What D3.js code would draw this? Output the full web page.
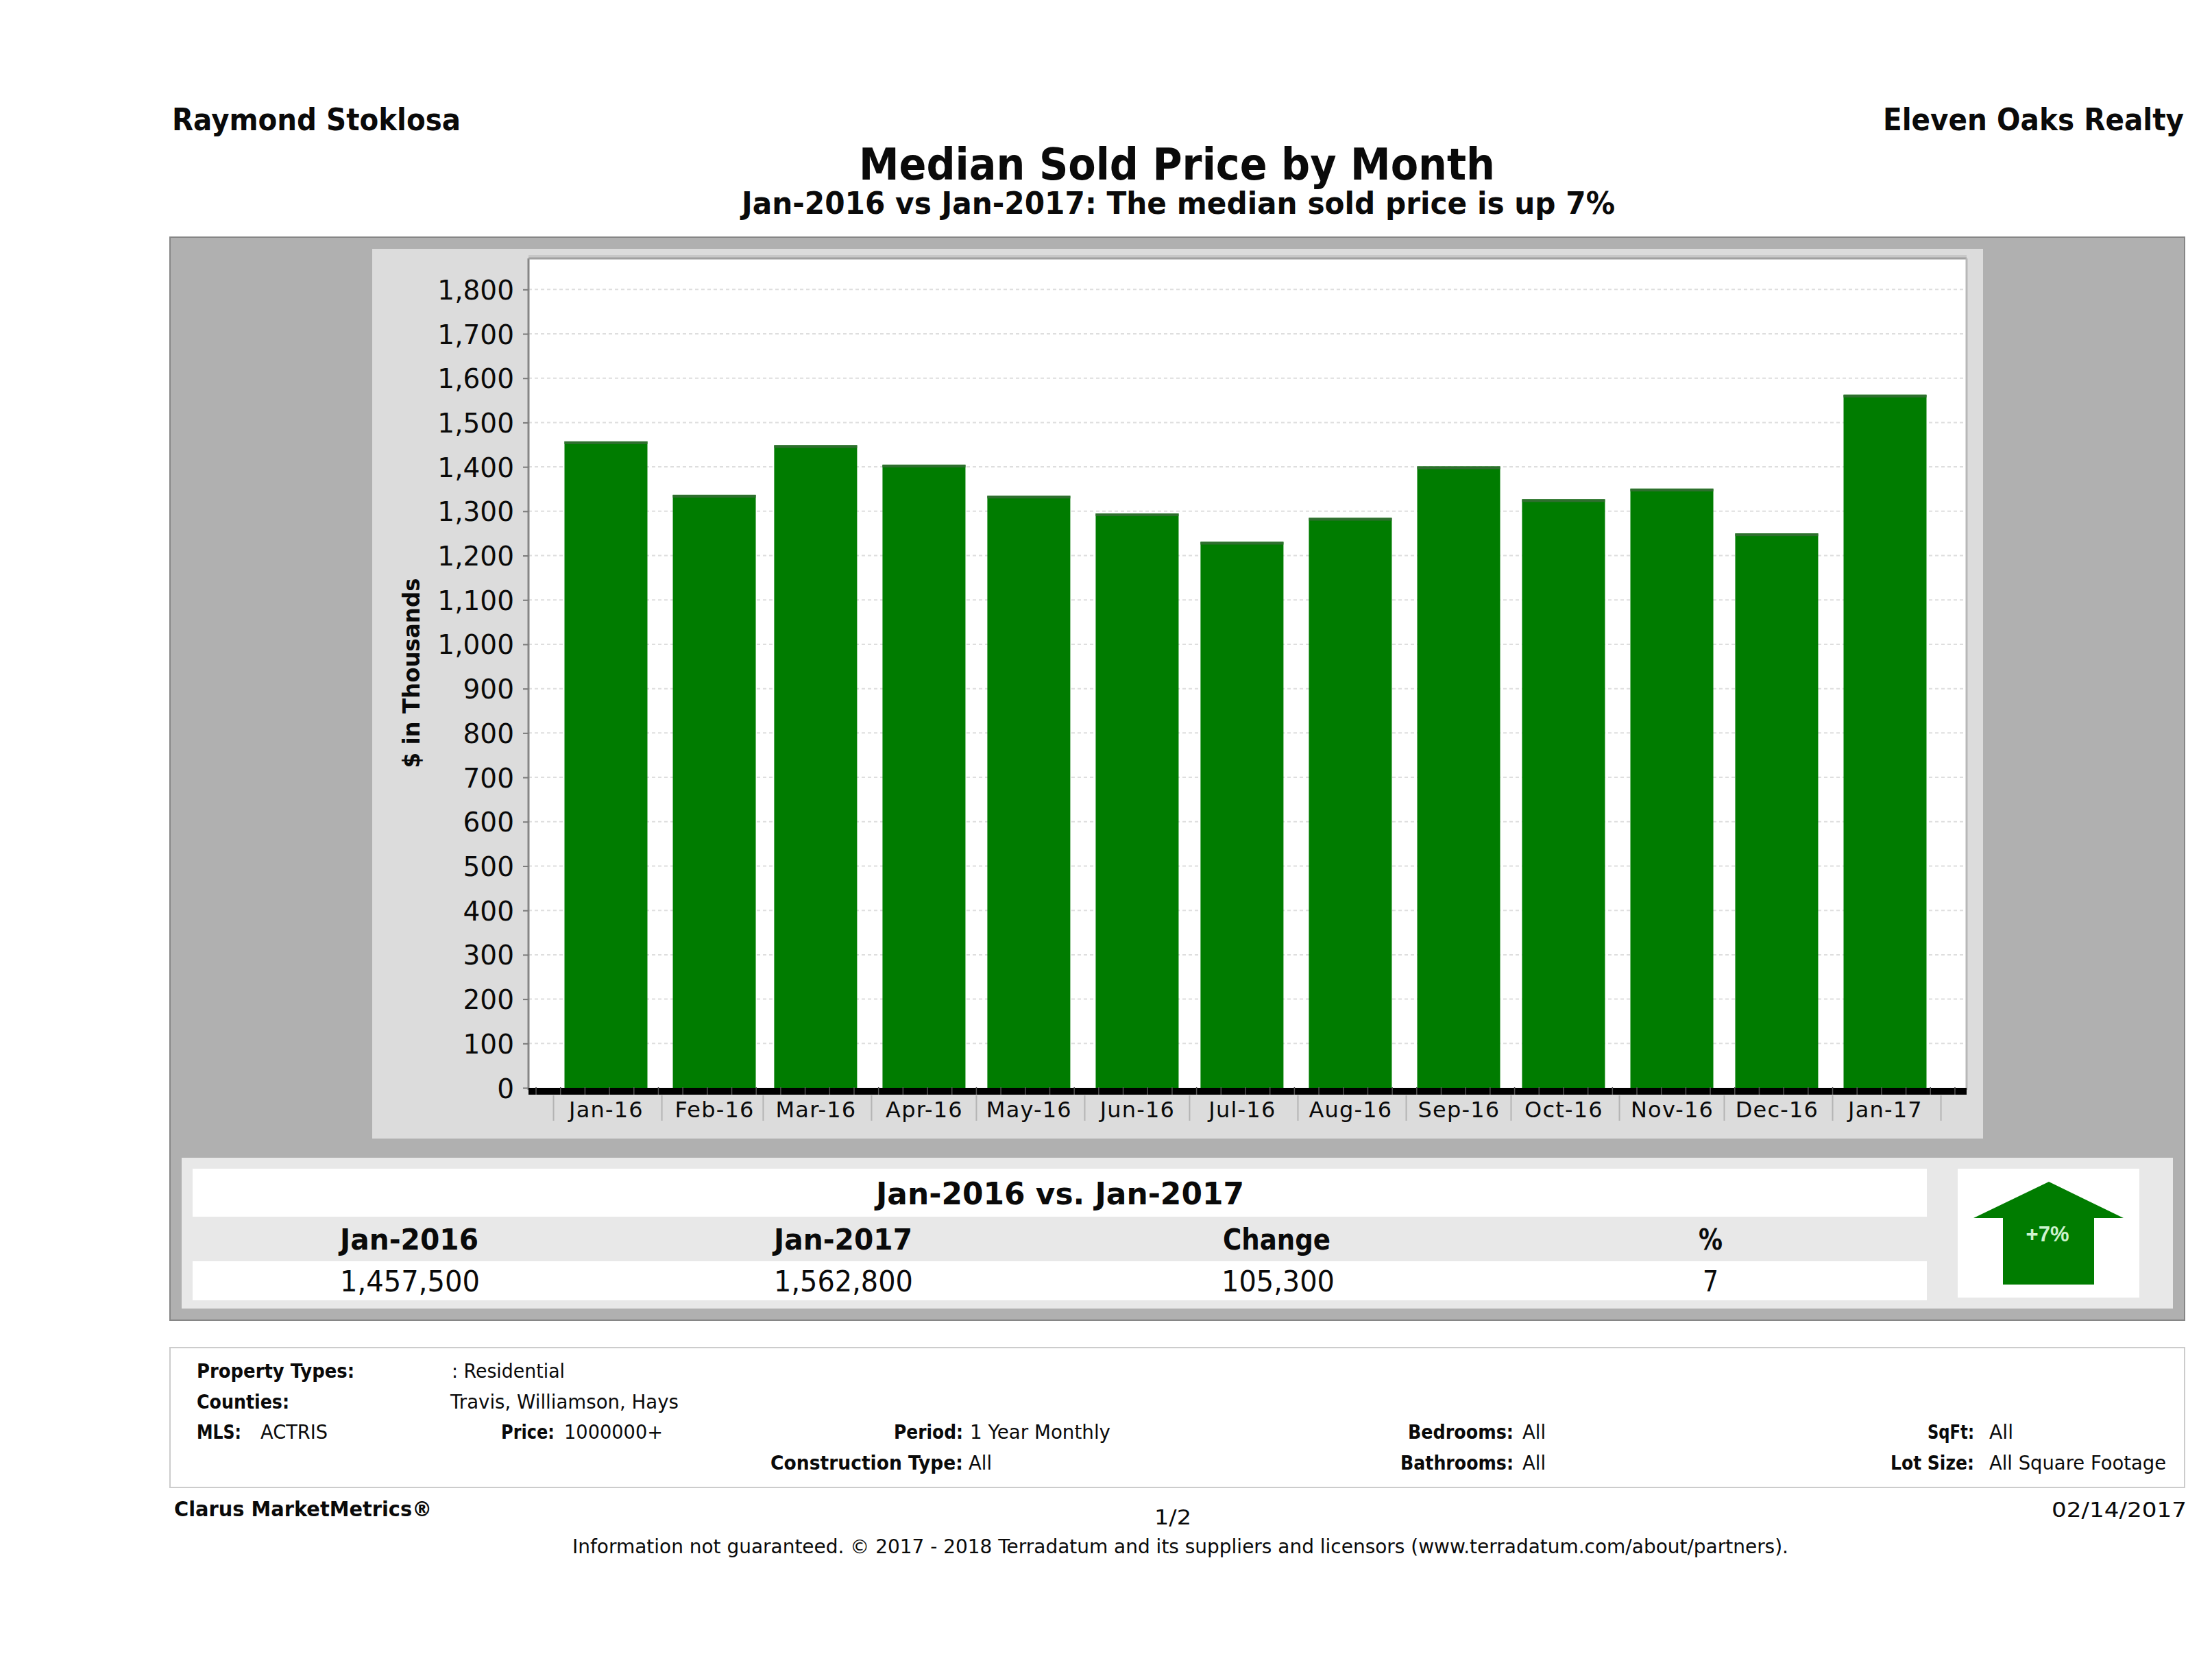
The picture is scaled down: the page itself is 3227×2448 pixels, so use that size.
<!DOCTYPE html>
<html>
<head>
<meta charset="utf-8">
<script src="https://cdn.jsdelivr.net/npm/d3@7/dist/d3.min.js"></script>
<style>
html,body{margin:0;padding:0;background:#fff;}
svg{display:block;}
text{font-family:"DejaVu Sans",sans-serif;fill:#0a0a0a;}
</style>
</head>
<body>
<svg id="chart" width="3227" height="2448"></svg>
<script>
// ---- data ----
const months = ["2016-01-01","2016-02-01","2016-03-01","2016-04-01","2016-05-01","2016-06-01","2016-07-01","2016-08-01","2016-09-01","2016-10-01","2016-11-01","2016-12-01","2017-01-01"];
const monthLabels = ["Jan-16","Feb-16","Mar-16","Apr-16","May-16","Jun-16","Jul-16","Aug-16","Sep-16","Oct-16","Nov-16","Dec-16","Jan-17"];
const medianPrice = [1457.5,1337,1449,1405,1335,1295,1231,1285,1401,1327,1351,1250,1562.8];
const yTicks = [0,100,200,300,400,500,600,700,800,900,1000,1100,1200,1300,1400,1500,1600,1700,1800];
const summaryHeads = ["Jan-2016","Jan-2017","Change","%"];
const summaryValues = ["1,457,500","1,562,800","105,300","7"];

const svg = d3.select("#chart");
const parse = d3.utcParse("%Y-%m-%d");
const dates = months.map(parse);

// helper: text fitted to a measured horizontal span
function label(x0, x1, y, str, size, weight) {
  return svg.append("text").attr("x", x0).attr("y", y)
    .attr("font-size", size).attr("font-weight", weight || "normal")
    .attr("textLength", x1 - x0).attr("lengthAdjust", "spacingAndGlyphs")
    .text(str);
}
function box(x0, y0, x1, y1, fill, stroke, sw) {
  return svg.append("rect").attr("x", x0).attr("y", y0).attr("width", x1 - x0).attr("height", y1 - y0)
    .attr("fill", fill).attr("stroke", stroke || "none").attr("stroke-width", sw || 0);
}

// ---- header ----
label(251, 672, 190, "Raymond Stoklosa", 44, "bold");
label(2747, 3186, 190, "Eleven Oaks Realty", 44, "bold");
label(1253, 2181, 262, "Median Sold Price by Month", 64, "bold");
label(1082, 2356, 312, "Jan-2016 vs Jan-2017: The median sold price is up 7%", 44, "bold");

// ---- panels ----
box(248, 346, 3187, 1926, "#b0b0b0", "#868686", 2);
box(543, 363, 2893, 1661, "#dcdcdc");
box(771, 372, 2869, 378, "#c8c8c8");
box(771, 377, 2869, 1590, "#ffffff");

// ---- scales ----
const plotL = 771, plotR = 2869;
const x = d3.scaleUtc().domain([dates[0], dates[dates.length - 1]]).range([884, 2750]);
const y = d3.scaleLinear().domain([0, 1800]).range([1587, 422.3]);
const barW = 121;

// ---- gridlines ----
svg.append("g").selectAll("line").data(yTicks.filter(d => d > 0)).join("line")
  .attr("x1", plotL).attr("x2", plotR).attr("y1", d => y(d)).attr("y2", d => y(d))
  .attr("stroke", "#dedede").attr("stroke-width", 2).attr("stroke-dasharray", "5 4");

// ---- bars ----
svg.append("g").selectAll("rect").data(medianPrice).join("rect")
  .attr("x", (d, i) => x(dates[i]) - barW / 2).attr("width", barW)
  .attr("y", d => y(d)).attr("height", d => y(0) - y(d))
  .attr("fill", "#007c00");
svg.append("g").selectAll("rect").data(medianPrice).join("rect")
  .attr("x", (d, i) => x(dates[i]) - barW / 2).attr("width", barW)
  .attr("y", d => y(d)).attr("height", 4)
  .attr("fill", "#2f6f2f");

// ---- plot frame ----
svg.append("line").attr("x1", plotL).attr("x2", plotL).attr("y1", 377).attr("y2", 1590).attr("stroke", "#868686").attr("stroke-width", 3);
svg.append("line").attr("x1", plotL).attr("x2", plotR).attr("y1", 377).attr("y2", 377).attr("stroke", "#a0a0a0").attr("stroke-width", 3);
svg.append("line").attr("x1", plotR).attr("x2", plotR).attr("y1", 377).attr("y2", 1590).attr("stroke", "#b8b8b8").attr("stroke-width", 3);

// ---- y axis ----
const yAxis = svg.append("g").attr("transform", `translate(${plotL},0)`)
  .call(d3.axisLeft(y).tickValues(yTicks).tickFormat(d3.format(",")).tickSize(8).tickPadding(13));
yAxis.select(".domain").remove();
yAxis.selectAll(".tick line").attr("stroke", "#7a7a7a").attr("stroke-width", 2);
yAxis.selectAll(".tick text").attr("font-size", 39).attr("font-family", '"DejaVu Sans",sans-serif').attr("fill", "#222").attr("dy", "0.36em");

// ---- x axis: thick baseline with weekly notches, month separators, labels ----
box(plotL, 1587, plotR, 1597, "#000000");
const weeks = d3.utcSaturday.range(x.invert(plotL), x.invert(plotR));
svg.append("g").selectAll("line").data(weeks).join("line")
  .attr("x1", d => x(d)).attr("x2", d => x(d)).attr("y1", 1586).attr("y2", 1597)
  .attr("stroke", "#555").attr("stroke-width", 1.5);

const seps = dates.map(d => d3.utcDay.offset(d, -15)).concat([d3.utcDay.offset(dates[dates.length - 1], 16)]);
svg.append("g").selectAll("line").data(seps).join("line")
  .attr("x1", d => x(d)).attr("x2", d => x(d)).attr("y1", 1598).attr("y2", 1635)
  .attr("stroke", "#b4b4b4").attr("stroke-width", 2);

const xAxis = svg.append("g").attr("transform", "translate(0,1597)")
  .call(d3.axisBottom(x).tickValues(dates).tickFormat((d, i) => monthLabels[i]).tickSize(0).tickPadding(0));
xAxis.select(".domain").remove();
xAxis.selectAll(".tick text").attr("font-size", 32).attr("font-family", '"DejaVu Sans",sans-serif')
  .attr("fill", "#222").attr("letter-spacing", 1.2).attr("dy", 0).attr("y", 33);

// ---- y axis title ----
svg.append("text").attr("transform", "rotate(-90)").attr("x", -982).attr("y", 612)
  .attr("text-anchor", "middle")
  .attr("font-size", 34).attr("font-weight", "bold")
  .attr("textLength", 277).attr("lengthAdjust", "spacingAndGlyphs").text("$ in Thousands");

// ---- summary block ----
box(265, 1689, 3170, 1909, "#e8e8e8");
box(281, 1705, 2811, 1775, "#ffffff");
box(281, 1840, 2811, 1897, "#ffffff");
box(2856, 1705, 3121, 1893, "#ffffff");
label(1278, 1815, 1757, "Jan-2016 vs. Jan-2017", 44, "bold");

const headSpans = [[496, 698], [1129, 1331], [1784, 1941], [2478, 2513]];
const valueSpans = [[496, 700], [1129, 1332], [1782, 1947], [2484, 2507]];
summaryHeads.forEach((t, i) => label(headSpans[i][0], headSpans[i][1], 1823, t, 42, "bold"));
summaryValues.forEach((t, i) => label(valueSpans[i][0], valueSpans[i][1], 1884, t, 42, "normal"));

// arrow
const arrowPts = [[2989,1724],[3098,1777],[3055,1777],[3055,1874],[2922,1874],[2922,1777],[2879,1777]];
svg.append("path").attr("d", d3.line()(arrowPts) + "Z").attr("fill", "#007c00");
svg.append("text").attr("x", 2987).attr("y", 1811).attr("text-anchor", "middle")
  .attr("font-size", 31).attr("font-weight", "bold").attr("font-family", '"Liberation Sans",sans-serif')
  .attr("style", "fill:#cdf2cd;font-family:'Liberation Sans',sans-serif").text("+7%");

// ---- criteria box ----
box(248, 1966, 3187, 2170, "#ffffff", "#cccccc", 2);
const S = 28;
label(287, 517, 2010, "Property Types:", S, "bold");
label(659, 824, 2010, ": Residential", S);
label(287, 422, 2055, "Counties:", S, "bold");
label(657, 990, 2055, "Travis, Williamson, Hays", S);
label(287, 352, 2099, "MLS:", S, "bold");
label(380, 478, 2099, "ACTRIS", S);
label(731, 809, 2099, "Price:", S, "bold");
label(823, 967, 2099, "1000000+", S);
label(1304, 1405, 2099, "Period:", S, "bold");
label(1415, 1620, 2099, "1 Year Monthly", S);
label(2054, 2208, 2099, "Bedrooms:", S, "bold");
label(2221, 2255, 2099, "All", S);
label(2812, 2880, 2099, "SqFt:", S, "bold");
label(2902, 2937, 2099, "All", S);
label(1124, 1405, 2144, "Construction Type:", S, "bold");
label(1413, 1447, 2144, "All", S);
label(2043, 2208, 2144, "Bathrooms:", S, "bold");
label(2221, 2255, 2144, "All", S);
label(2758, 2880, 2144, "Lot Size:", S, "bold");
label(2902, 3160, 2144, "All Square Footage", S);

// ---- footer ----
label(254, 630, 2212, "Clarus MarketMetrics®", 30, "bold");
label(1684, 1738, 2224, "1/2", 30);
label(2993, 3190, 2213, "02/14/2017", 30);
label(835, 2609, 2266, "Information not guaranteed. © 2017 - 2018 Terradatum and its suppliers and licensors (www.terradatum.com/about/partners).", 28);
</script>
</body>
</html>
